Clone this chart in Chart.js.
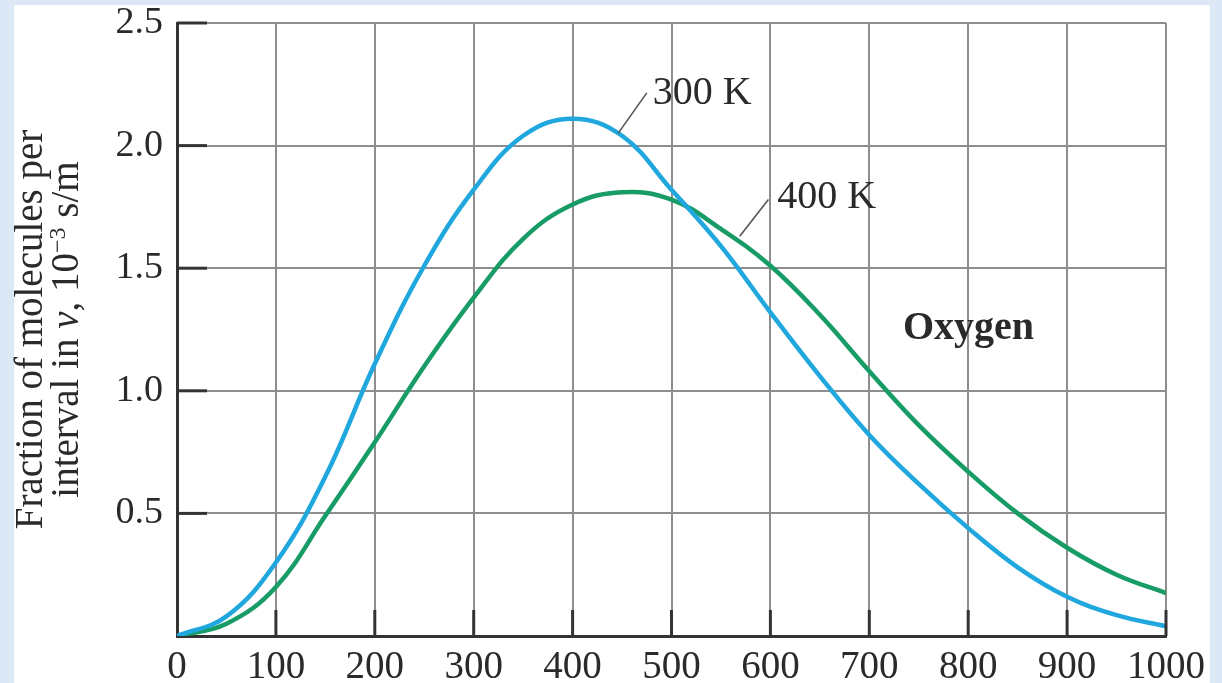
<!DOCTYPE html>
<html><head><meta charset="utf-8">
<script src="https://cdn.jsdelivr.net/npm/chart.js"></script>
<style>html,body{margin:0;padding:0;background:#dce8f5;overflow:hidden}</style>
</head><body>
<canvas id="c" width="1222" height="683"></canvas>
<script>
// ---- data ----
const speeds = [0, 50, 100, 150, 200, 250, 300, 350, 400, 450, 500, 550, 600, 650, 700, 750, 800, 850, 900, 950, 1000];
const f300K  = [0, 0.08, 0.30, 0.65, 1.11, 1.51, 1.82, 2.04, 2.11, 2.04, 1.82, 1.59, 1.32, 1.06, 0.82, 0.62, 0.44, 0.28, 0.16, 0.085, 0.04];
const f400K  = [0, 0.05, 0.20, 0.49, 0.79, 1.10, 1.38, 1.62, 1.76, 1.81, 1.78, 1.66, 1.51, 1.31, 1.08, 0.86, 0.67, 0.50, 0.36, 0.25, 0.175];
const xTicks = [0, 100, 200, 300, 400, 500, 600, 700, 800, 900, 1000];
const yTicks = [0.5, 1.0, 1.5, 2.0, 2.5];
const seriesNames = ['300 K', '400 K'];
const gasName = 'Oxygen';
const yTitleLine1 = 'Fraction of molecules per';
const yTitleLine2 = ['interval in ', 'v', ', 10', '\u22123', ' s/m'];

const FONT = '"Liberation Serif", "Times New Roman", serif';
const TXT = '#2a2a2a';

const overlay = {
  id: 'overlay',
  beforeDraw(chart) {
    const ctx = chart.ctx;
    ctx.save();
    ctx.fillStyle = '#dce8f5';
    ctx.fillRect(0, 0, chart.width, chart.height);
    ctx.fillStyle = '#ffffff';
    ctx.fillRect(14, 5, chart.width - 26, chart.height - 5);
    ctx.restore();
  },
  afterDraw(chart) {
    const ctx = chart.ctx, x = chart.scales.x, y = chart.scales.y, ca = chart.chartArea;
    ctx.save();
    // inner tick marks
    ctx.strokeStyle = '#333';
    ctx.lineWidth = 3;
    yTicks.forEach(v => {
      const py = y.getPixelForValue(v);
      ctx.beginPath(); ctx.moveTo(ca.left, py); ctx.lineTo(ca.left + 30, py); ctx.stroke();
    });
    xTicks.forEach(v => {
      if (v === 0) return;
      const px = x.getPixelForValue(v);
      ctx.beginPath(); ctx.moveTo(px, ca.bottom); ctx.lineTo(px, ca.bottom - 26); ctx.stroke();
    });
    // leader lines
    ctx.strokeStyle = '#555';
    ctx.lineWidth = 1.6;
    const lead = (a, b) => {
      ctx.beginPath();
      ctx.moveTo(x.getPixelForValue(a[0]), y.getPixelForValue(a[1]));
      ctx.lineTo(x.getPixelForValue(b[0]), y.getPixelForValue(b[1]));
      ctx.stroke();
    };
    lead([446, 2.05], [475, 2.215]);
    lead([569, 1.63], [598, 1.78]);
    // labels
    ctx.fillStyle = TXT;
    ctx.textBaseline = 'alphabetic';
    ctx.textAlign = 'left';
    ctx.font = '40px ' + FONT;
    ctx.fillText(seriesNames[0], x.getPixelForValue(481), y.getPixelForValue(2.17));
    ctx.fillText(seriesNames[1], x.getPixelForValue(607), y.getPixelForValue(1.747));
    ctx.font = 'bold 40px ' + FONT;
    ctx.fillText(gasName, x.getPixelForValue(734), y.getPixelForValue(1.212));
    // y axis title (rotated, mixed styles)
    const cy = (ca.top + ca.bottom) / 2;
    ctx.save();
    ctx.translate(42, cy);
    ctx.rotate(-Math.PI / 2);
    ctx.textAlign = 'center';
    ctx.textBaseline = 'alphabetic';
    ctx.font = '39px ' + FONT;
    ctx.fillText(yTitleLine1, 0, 0);
    ctx.restore();
    ctx.save();
    ctx.translate(78, cy);
    ctx.rotate(-Math.PI / 2);
    ctx.textBaseline = 'alphabetic';
    ctx.textAlign = 'left';
    const parts = [
      {t: yTitleLine2[0], f: '39px ' + FONT, dy: 0},
      {t: yTitleLine2[1], f: 'italic 39px ' + FONT, dy: 0},
      {t: yTitleLine2[2], f: '39px ' + FONT, dy: 0},
      {t: yTitleLine2[3], f: '24px ' + FONT, dy: -13},
      {t: yTitleLine2[4], f: '39px ' + FONT, dy: 0}
    ];
    let total = 0;
    parts.forEach(p => { ctx.font = p.f; p.w = ctx.measureText(p.t).width; total += p.w; });
    let px = -total / 2;
    parts.forEach(p => { ctx.font = p.f; ctx.fillText(p.t, px, p.dy); px += p.w; });
    ctx.restore();
    ctx.restore();
  }
};

new Chart(document.getElementById('c'), {
  type: 'line',
  data: {
    datasets: [
      { label: seriesNames[0], data: speeds.map((v, i) => ({x: v, y: f300K[i]})),
        borderColor: '#1fa7de', borderWidth: 4.5, pointRadius: 0, tension: 0.4, fill: false },
      { label: seriesNames[1], data: speeds.map((v, i) => ({x: v, y: f400K[i]})),
        borderColor: '#189c66', borderWidth: 4.5, pointRadius: 0, tension: 0.4, fill: false }
    ]
  },
  options: {
    responsive: false,
    devicePixelRatio: 1,
    animation: false,
    layout: { padding: { left: 0, right: 56, top: 23, bottom: 0 } },
    plugins: { legend: { display: false }, tooltip: { enabled: false } },
    scales: {
      x: {
        type: 'linear', min: 0, max: 1000,
        afterFit: s => { s.height = 47; s.paddingLeft = 0; s.paddingRight = 0; },
        afterBuildTicks: s => { s.ticks = xTicks.map(v => ({value: v})); },
        grid: { color: '#8e8e8e', lineWidth: 2, drawTicks: false },
        border: { display: true, color: '#333', width: 3 },
        ticks: { color: TXT, padding: 8, font: { family: FONT, size: 39 }, maxRotation: 0, autoSkip: false,
                 callback: v => String(v) }
      },
      y: {
        type: 'linear', min: 0, max: 2.5,
        afterFit: s => { s.width = 177; s.paddingTop = 0; s.paddingBottom = 0; },
        afterBuildTicks: s => { s.ticks = [0].concat(yTicks).map(v => ({value: v})); },
        grid: { color: '#8e8e8e', lineWidth: 2, drawTicks: false },
        border: { display: true, color: '#333', width: 3 },
        ticks: { color: TXT, padding: 14, font: { family: FONT, size: 38 }, autoSkip: false,
                 callback: v => (v === 0 ? '' : v.toFixed(1)) }
      }
    }
  },
  plugins: [overlay]
});
</script>
</body></html>
